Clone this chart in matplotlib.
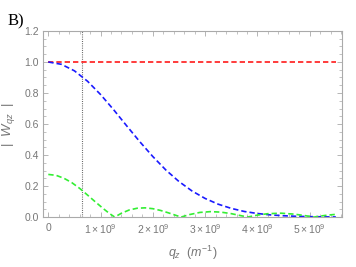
import numpy as np
import matplotlib
matplotlib.use("Agg")
import matplotlib.pyplot as plt
from matplotlib.ticker import MultipleLocator

# q_z in units of 1e9 m^-1
q_red = [0.0, 5.5]
w_red = [1.0, 1.0]

q_blue = [0.0, 0.25, 0.5, 0.75, 1.0, 1.25, 1.5, 1.75, 2.0, 2.25, 2.5, 2.75,
          3.0, 3.25, 3.5, 3.75, 4.0, 4.25, 4.5, 4.75, 5.0, 5.25, 5.5]
w_blue = [1.0, 0.985, 0.943, 0.876, 0.790, 0.692, 0.588, 0.486, 0.390, 0.303,
          0.229, 0.168, 0.120, 0.083, 0.056, 0.036, 0.023, 0.014, 0.0085,
          0.0049, 0.0028, 0.0015, 0.0008]

q_green = [0.0, 0.15, 0.3, 0.45, 0.6, 0.75, 0.9, 1.05, 1.17, 1.27,
           1.4, 1.55, 1.7, 1.85, 2.0, 2.15, 2.3, 2.45, 2.54,
           2.7, 2.9, 3.1, 3.3, 3.5, 3.7, 3.81,
           4.0, 4.2, 4.45, 4.7, 4.9, 5.08,
           5.2, 5.35, 5.5]
w_green = [0.275, 0.269, 0.250, 0.222, 0.185, 0.142, 0.098, 0.055, 0.023, 0.0,
           0.025, 0.046, 0.057, 0.0595, 0.054, 0.0425, 0.027, 0.010, 0.0,
           0.016, 0.030, 0.035, 0.032, 0.022, 0.008, 0.0,
           0.0126, 0.0218, 0.025, 0.019, 0.0098, 0.0,
           0.0062, 0.0129, 0.0174]

q_mark = 0.65

xticks = [0, 1, 2, 3, 4, 5]
xticklabels = ["0", r"$1\times10^{9}$", r"$2\times10^{9}$", r"$3\times10^{9}$",
               r"$4\times10^{9}$", r"$5\times10^{9}$"]
yticks = [0.0, 0.2, 0.4, 0.6, 0.8, 1.0, 1.2]

plt.rcParams["font.family"] = ["Liberation Sans", "DejaVu Sans"]
plt.rcParams["mathtext.fontset"] = "custom"
plt.rcParams["mathtext.rm"] = "Liberation Sans"
plt.rcParams["mathtext.it"] = "Liberation Sans:italic"

grey = "#777777"
frame = "#aaaaaa"

fig = plt.figure(figsize=(3.56, 2.67), dpi=100)
ax = fig.add_axes([0.121, 0.187, 0.840, 0.697])

ax.axvline(q_mark, color="#555555", lw=0.8, ls=(0, (0.8, 1.2)))
ax.plot(q_red, w_red, color="#ff1a1a", lw=1.2, dashes=(3.2, 1.8))
ax.plot(q_blue, w_blue, color="#1a1aff", lw=1.2, dashes=(3.2, 1.8))
ax.plot(q_green, w_green, color="#33ee33", lw=1.2, dashes=(3.2, 1.8))

ax.set_xlim(-0.1, 5.62)
ax.set_ylim(0, 1.2)
ax.set_xticks(xticks)
ax.set_xticklabels(xticklabels)
ax.set_yticks(yticks)
ax.set_yticklabels([f"{v:.1f}" for v in yticks])
ax.xaxis.set_minor_locator(MultipleLocator(0.2))
ax.yaxis.set_minor_locator(MultipleLocator(0.05))

for s in ax.spines.values():
    s.set_color(frame)
    s.set_linewidth(0.8)
ax.tick_params(which="both", direction="in", top=True, right=True,
               color=frame, labelcolor=grey, labelsize=7.5)
ax.tick_params(which="major", length=3.5, width=0.6)
ax.tick_params(which="minor", length=2, width=0.5)
ax.tick_params(axis="x", pad=4)
ax.tick_params(axis="y", pad=3)

ax.set_xlabel(r"$q_z\ \ (m^{-1})$", color=grey, fontsize=9, labelpad=5)
ax.set_ylabel(r"|  $W_{qz}$  |", color=grey, fontsize=9.5)
ax.yaxis.set_label_coords(-0.088, 0.5)

fig.text(0.02, 0.905, "B)", family="Liberation Serif", fontsize=12, color="black")

fig.savefig("out.png", dpi=100)
